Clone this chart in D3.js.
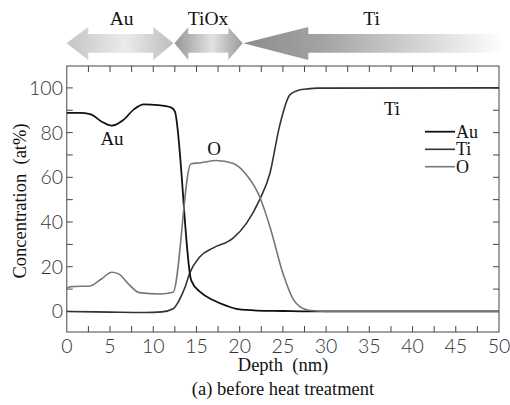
<!DOCTYPE html>
<html lang="en">
<head>
    <meta charset="utf-8">
    <script src="https://d3js.org/d3.v7.min.js"></script>
    <style>
        body { margin: 0; background: #fff; }
        .tick-label { font-family: "Lato", "Open Sans", sans-serif; font-weight: 300; font-size: 19.5px; fill: #333; }
    </style>
</head>
<body>
    <div id="chart"></div>
    <script>
        // depth profiles (nm, at%)
        const auDepth = [0, 1.5, 2.7, 4, 5.2, 6.5, 7.8, 8.9, 10.5, 12.1, 12.5, 14.4, 15.5, 16.9, 18.5, 19.8, 22, 25, 28, 50];
        const auConc  = [88.8, 88.8, 88.3, 85, 83.1, 85.5, 90.5, 92.6, 92.3, 91.2, 89.5, 13.8, 8.5, 5.1, 2.5, 1, 0.4, 0.2, 0, 0];

        const tiDepth = [0, 5, 9, 11, 12.3, 13, 13.7, 14.2, 15.4, 16.9, 19.2, 20.8, 22.3, 23.5, 24.6, 25.8, 26.9, 27.7, 29, 50];
        const tiConc  = [0, -0.3, -0.5, -0.2, 1.2, 5, 11, 17, 24.5, 28.3, 32.7, 39.5, 49.9, 61.8, 82.7, 96.9, 99.1, 99.5, 99.9, 100];

        const oDepth = [0, 0.5, 2.7, 4, 5.2, 6, 7.2, 8.4, 10.8, 12.3, 14.35, 15.5, 17.3, 19.2, 20.8, 22.3, 23.5, 25, 26.2, 27, 28, 30, 50];
        const oConc  = [10.5, 11.1, 11.4, 14.5, 17.5, 16.8, 12, 8.4, 7.8, 8.6, 66, 66.5, 67.5, 66.3, 61, 51.4, 37.9, 17.1, 5.4, 2, 0.5, 0, 0];

        const seriesNames = ["Au", "Ti", "O"];
        const xTickValues = d3.range(0, 50.1, 2.5);
        const xLabelValues = d3.range(0, 50.1, 5);
        const yTickValues = d3.range(0, 100.1, 10);
        const yLabelValues = d3.range(0, 100.1, 20);

        const width = 510;
        const height = 405;
        const plot = { left: 66.8, right: 499, top: 66, bottom: 332 };
        const serif = "'Liberation Serif', Tinos, 'Times New Roman', 'DejaVu Serif', serif";

        const svg = d3.select("#chart").append("svg")
            .attr("width", width)
            .attr("height", height);

        const x = d3.scaleLinear().domain([0, 50]).range([plot.left, plot.right]);
        const y = d3.scaleLinear().domain([-9.2, 109.8]).range([plot.bottom, plot.top]);

        const defs = svg.append("defs");
        function grad(id, stops) {
            const g = defs.append("linearGradient").attr("id", id)
                .attr("x1", "0%").attr("x2", "100%").attr("y1", "0%").attr("y2", "0%");
            stops.forEach(s => g.append("stop").attr("offset", s[0]).attr("stop-color", s[1]));
        }
        grad("gAu", [["0%", "#c4c4c4"], ["55%", "#ebebeb"], ["100%", "#bdbdbd"]]);
        grad("gTiOx", [["0%", "#959595"], ["55%", "#e2e2e2"], ["100%", "#9a9a9a"]]);
        grad("gTi", [["0%", "#8c8c8c"], ["30%", "#a3a3a3"], ["100%", "#ffffff"]]);

        // layer arrows at the top
        const shaftTop = 34, shaftBot = 52.7, headTop = 27, headBot = 60, mid = 43.3;
        function doubleArrow(x0, h0, h1, x1, fill) {
            const pts = [[x0, mid], [h0, headTop], [h0, shaftTop], [h1, shaftTop], [h1, headTop], [x1, mid],
                [h1, headBot], [h1, shaftBot], [h0, shaftBot], [h0, headBot]];
            svg.append("path").attr("d", "M" + pts.join("L") + "Z").attr("fill", fill);
        }
        doubleArrow(x(0) - 0.3, 88.3, 153.3, 173.5, "url(#gAu)");
        doubleArrow(174.5, 188.3, 228.3, 242.7, "url(#gTiOx)");
        const tiPts = [[243.3, mid], [308.3, headTop], [308.3, shaftTop], [504, shaftTop], [504, shaftBot], [308.3, shaftBot], [308.3, headBot]];
        svg.append("path").attr("d", "M" + tiPts.join("L") + "Z").attr("fill", "url(#gTi)");

        function label(txt, lx, ly, size, anchor) {
            return svg.append("text")
                .attr("x", lx).attr("y", ly)
                .attr("text-anchor", anchor || "middle")
                .attr("font-family", serif)
                .attr("font-size", size)
                .attr("fill", "#111")
                .text(txt);
        }

        const layerLabels = [["Au", 121.7], ["TiOx", 208], ["Ti", 371.7]];
        layerLabels.forEach(l => label(l[0], l[1], 25, "19.5px"));

        // frame
        svg.append("rect")
            .attr("x", plot.left).attr("y", plot.top)
            .attr("width", plot.right - plot.left).attr("height", plot.bottom - plot.top)
            .attr("fill", "none").attr("stroke", "#444").attr("stroke-width", 1);

        const tickLen = 6;
        const ticks = svg.append("g").attr("stroke", "#444").attr("stroke-width", 1);
        xTickValues.forEach(v => {
            if (v === 0 || v === 50) return;
            ticks.append("line").attr("x1", x(v)).attr("x2", x(v)).attr("y1", plot.bottom).attr("y2", plot.bottom - tickLen);
            ticks.append("line").attr("x1", x(v)).attr("x2", x(v)).attr("y1", plot.top).attr("y2", plot.top + tickLen);
        });
        yTickValues.forEach(v => {
            ticks.append("line").attr("x1", plot.left).attr("x2", plot.left + tickLen).attr("y1", y(v)).attr("y2", y(v));
            ticks.append("line").attr("x1", plot.right).attr("x2", plot.right - tickLen).attr("y1", y(v)).attr("y2", y(v));
        });

        xLabelValues.forEach(v => {
            svg.append("text").attr("class", "tick-label")
                .attr("x", x(v)).attr("y", 353)
                .attr("text-anchor", "middle")
                .text(v);
        });
        yLabelValues.forEach(v => {
            svg.append("text").attr("class", "tick-label")
                .attr("x", 63).attr("y", y(v) + 7)
                .attr("text-anchor", "end")
                .text(v);
        });

        label("Depth\u00a0\u00a0(nm)", 283, 371, "18.5px");
        label("(a) before heat treatment", 283, 395, "18.5px");
        label("Concentration\u00a0\u00a0(at%)", 0, 0, "18.5px")
            .attr("transform", "translate(25.5,201) rotate(-90)");

        // profiles
        const series = [
            { name: "Au", depth: auDepth, conc: auConc, color: "#111", w: 1.8 },
            { name: "Ti", depth: tiDepth, conc: tiConc, color: "#333", w: 1.6 },
            { name: "O", depth: oDepth, conc: oConc, color: "#777", w: 1.6 }
        ];
        const line = d3.line()
            .x(d => x(d[0]))
            .y(d => y(d[1]))
            .curve(d3.curveMonotoneX);
        [series[1], series[0], series[2]].forEach(s => {
            svg.append("path")
                .attr("d", line(d3.zip(s.depth, s.conc)))
                .attr("fill", "none")
                .attr("stroke", s.color)
                .attr("stroke-width", s.w)
                .attr("stroke-linejoin", "round");
        });

        // in-plot labels
        const inLabels = [["Au", 112, 145], ["O", 214, 155], ["Ti", 392, 115]];
        inLabels.forEach(l => label(l[0], l[1], l[2], "19px"));

        // legend
        const legendY = [131.7, 149.3, 166.7];
        seriesNames.forEach((n, i) => {
            const s = series[i];
            svg.append("line")
                .attr("x1", 425).attr("x2", 455)
                .attr("y1", legendY[i]).attr("y2", legendY[i])
                .attr("stroke", s.color).attr("stroke-width", s.w);
            label(n, 456, legendY[i] + 6, "18px", "start");
        });
    </script>
</body>
</html>
